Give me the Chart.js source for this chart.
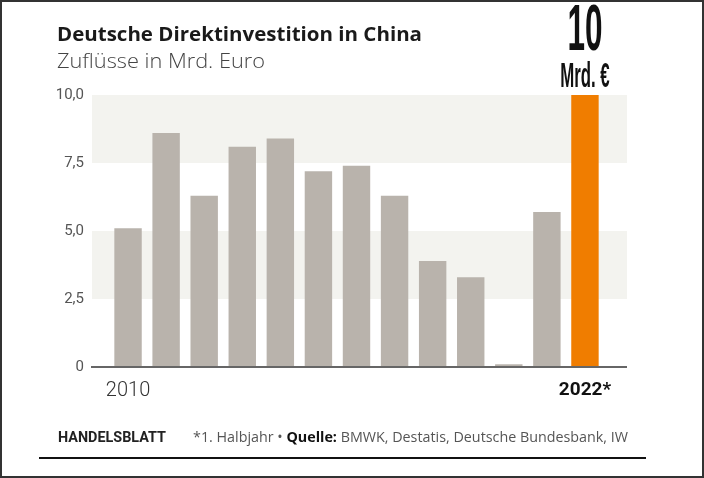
<!DOCTYPE html>
<html lang="de">
<head>
  <meta charset="UTF-8">
  <title>Deutsche Direktinvestition in China</title>
  <script src="https://cdn.jsdelivr.net/npm/chart.js"></script>
  <style>
    html, body { margin: 0; padding: 0; background: #fff; }
    canvas { display: block; }
  </style>
</head>
<body>
  <canvas id="chart" width="704" height="478"></canvas>

  <script>
    // Zuflüsse in Mrd. Euro, 2022 = 1. Halbjahr
    const years = ['2010', '2011', '2012', '2013', '2014', '2015', '2016',
                   '2017', '2018', '2019', '2020', '2021', '2022'];
    const inflows = [5.1, 8.6, 6.3, 8.1, 8.4, 7.2, 7.4, 6.3, 3.9, 3.3, 0.1, 5.7, 10.0];
    const xTickLabels = ['2010', '', '', '', '', '', '', '', '', '', '', '', '2022*'];
    const yTicks = [0, 2.5, 5, 7.5, 10];
    const yTickLabels = ['0', '2,5', '5,0', '7,5', '10,0'];
    const bands = [[2.5, 5], [7.5, 10]];

    const GREY = '#b9b3ac';
    const ORANGE = '#f07d00';
    const FONT = 'Roboto, "Liberation Sans", sans-serif';
    const HEAD = '"Open Sans", Roboto, sans-serif';

    // draw a run of [text, font, colour] pieces, stretched to a given width
    function drawRun(ctx, parts, x, y, width) {
      let total = 0;
      parts.forEach(([t, f]) => { ctx.font = f; total += ctx.measureText(t).width; });
      ctx.save();
      ctx.translate(x, y);
      ctx.scale(width / total, 1);
      let cx = 0;
      parts.forEach(([t, f, c]) => {
        ctx.font = f;
        ctx.fillStyle = c;
        ctx.fillText(t, cx, 0);
        cx += ctx.measureText(t).width;
      });
      ctx.restore();
    }

    const decor = {
      id: 'decor',
      beforeDatasetsDraw(chart) {
        const { ctx, scales: { y } } = chart;
        ctx.save();
        ctx.fillStyle = '#f3f3ef';
        bands.forEach(([a, b]) => {
          const top = y.getPixelForValue(b);
          const bot = y.getPixelForValue(a);
          ctx.fillRect(92, top, 627 - 92, bot - top);
        });
        ctx.restore();
      },
      afterDatasetsDraw(chart) {
        const { ctx, scales: { y } } = chart;
        const y0 = y.getPixelForValue(0);
        ctx.save();
        ctx.strokeStyle = '#666';
        ctx.lineWidth = 2;
        ctx.beginPath();
        ctx.moveTo(91, y0);
        ctx.lineTo(627, y0);
        ctx.stroke();
        ctx.restore();
      },
      afterDraw(chart) {
        const { ctx } = chart;
        ctx.save();
        ctx.textBaseline = 'alphabetic';
        ctx.textAlign = 'left';

        // title + subtitle
        drawRun(ctx, [['Deutsche Direktinvestition in China', 'bold 19px ' + HEAD, '#1a1a1a']], 57, 41, 365);
        drawRun(ctx, [['Zuflüsse in Mrd. Euro', '300 20px ' + HEAD, '#444']], 57, 68, 208);

        // big callout above the last bar
        const bar = chart.getDatasetMeta(0).data[inflows.length - 1];
        ctx.fillStyle = '#111';
        ctx.textAlign = 'center';
        ctx.save();
        ctx.translate(bar.x, 50);
        ctx.scale(0.5, 1.04);
        ctx.font = 'bold 63px "Liberation Sans", sans-serif';
        ctx.fillText(String(Math.round(inflows[inflows.length - 1])), 0, 0);
        ctx.restore();
        ctx.save();
        ctx.translate(bar.x, 87);
        ctx.scale(0.48, 1);
        ctx.font = 'bold 35px "Liberation Sans", sans-serif';
        ctx.fillText('Mrd. €', 0, 0);
        ctx.restore();

        // footer
        ctx.textAlign = 'left';
        drawRun(ctx, [['HANDELSBLATT', 'bold 14px ' + FONT, '#222']], 58, 442, 108);
        drawRun(ctx, [
          ['*1. Halbjahr • ', '14px ' + HEAD, '#555'],
          ['Quelle: ', 'bold 14px ' + HEAD, '#111'],
          ['BMWK, Destatis, Deutsche Bundesbank, IW', '14px ' + HEAD, '#555']
        ], 193, 442, 435);

        ctx.strokeStyle = '#111';
        ctx.lineWidth = 2;
        ctx.beginPath();
        ctx.moveTo(39, 458);
        ctx.lineTo(646, 458);
        ctx.stroke();

        // frame
        ctx.strokeStyle = '#333';
        ctx.lineWidth = 2;
        ctx.strokeRect(1, 1, chart.width - 2, chart.height - 2);
        ctx.restore();
      }
    };

    new Chart(document.getElementById('chart'), {
      type: 'bar',
      data: {
        labels: years,
        datasets: [{
          data: inflows,
          backgroundColor: inflows.map((v, i) => i === inflows.length - 1 ? ORANGE : GREY),
          barPercentage: 0.72,
          categoryPercentage: 1.0
        }]
      },
      options: {
        responsive: false,
        animation: false,
        devicePixelRatio: 1,
        layout: { padding: { top: 95, right: 100, left: 0, bottom: 0 } },
        plugins: { legend: { display: false }, tooltip: { enabled: false } },
        scales: {
          x: {
            grid: { display: false, drawTicks: false },
            border: { display: false },
            afterFit(scale) { scale.height = 111; },
            ticks: {
              autoSkip: false,
              maxRotation: 0,
              padding: 12,
              callback: (v, i) => xTickLabels[i],
              color: ctx => ctx.index === xTickLabels.length - 1 ? '#111' : '#333',
              font: ctx => ctx.index === xTickLabels.length - 1
                ? { family: FONT, size: 19, weight: 'bold' }
                : { family: FONT, size: 20, weight: '300' }
            }
          },
          y: {
            min: 0,
            max: 10,
            afterBuildTicks(scale) { scale.ticks = yTicks.map(v => ({ value: v })); },
            afterFit(scale) { scale.width = 109; },
            grid: { display: false, drawTicks: false },
            border: { display: false },
            ticks: {
              padding: 25,
              color: '#555',
              font: { family: FONT, size: 15 },
              callback: v => yTickLabels[yTicks.indexOf(v)]
            }
          }
        }
      },
      plugins: [decor]
    });
  </script>
</body>
</html>
